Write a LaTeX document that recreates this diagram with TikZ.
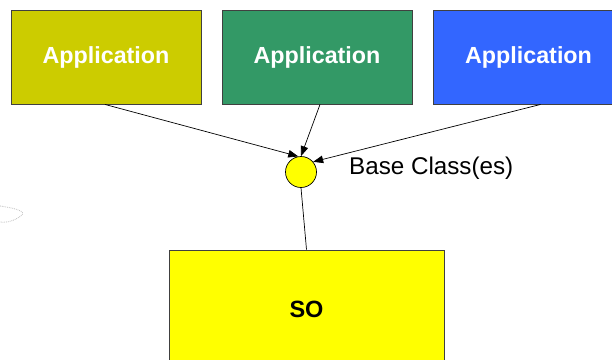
\documentclass[tikz,border=0pt]{standalone}
\usepackage{fontspec}
\setmainfont{Liberation Sans}
\usetikzlibrary{arrows.meta}
\definecolor{appolive}{HTML}{CCCC00}
\definecolor{appgreen}{HTML}{339966}
\definecolor{appblue}{HTML}{3366FF}
\definecolor{soyellow}{HTML}{FFFF00}
\tikzset{
  appbox/.style={draw=black!75, line width=0.9pt, minimum width=190pt, minimum height=94pt,
    inner sep=0pt, text=white, font=\fontsize{23.3}{28}\selectfont\bfseries},
  arr/.style={draw=black, line width=0.7pt, -{Triangle[length=10pt,width=7.5pt]}},
  link/.style={draw=black, line width=0.7pt},
}
\begin{document}
\begin{tikzpicture}[x=1pt,y=-1pt]
  \useasboundingbox (0,0) rectangle (612,359);
  \clip (0,0) rectangle (612,359);
  \fill[white] (0,0) rectangle (612,359);

  % faint dotted mark on the left margin
  \draw[black!25, densely dotted, line width=0.8pt] (0,206) .. controls (14,208) and (26,211) .. (22,215) .. controls (16,220) and (8,223) .. (0,222);

  % application boxes
  \node[appbox, fill=appolive] (app1) at (106,57) {Application};
  \node[appbox, fill=appgreen] (app2) at (317,57) {Application};
  \node[appbox, fill=appblue, minimum width=191pt] (app3) at (528.5,57) {Application};

  % base class junction
  \node[circle, draw=black, line width=0.7pt, fill=soyellow, minimum size=31pt, inner sep=0pt] (base) at (301,172) {};
  \node[anchor=west, inner sep=0pt, font=\fontsize{24.2}{29}\selectfont] (baselbl) at (349,168) {Base Class(es)};

  % SO box
  \node[draw=black!75, line width=0.9pt, fill=soyellow, minimum width=275pt, minimum height=118pt,
    inner sep=0pt, font=\fontsize{23.5}{28}\selectfont\bfseries] (so) at (306.5,309) {SO};

  % connectors
  \draw[arr] ([xshift=-1pt]app1.south) -- (base.100);
  \draw[arr] ([xshift=3pt]app2.south) -- (base.north);
  \draw[arr] ([xshift=12pt]app3.south) -- (base.40);
  \draw[link] (base.south) -- (so.north);
\end{tikzpicture}
\end{document}
